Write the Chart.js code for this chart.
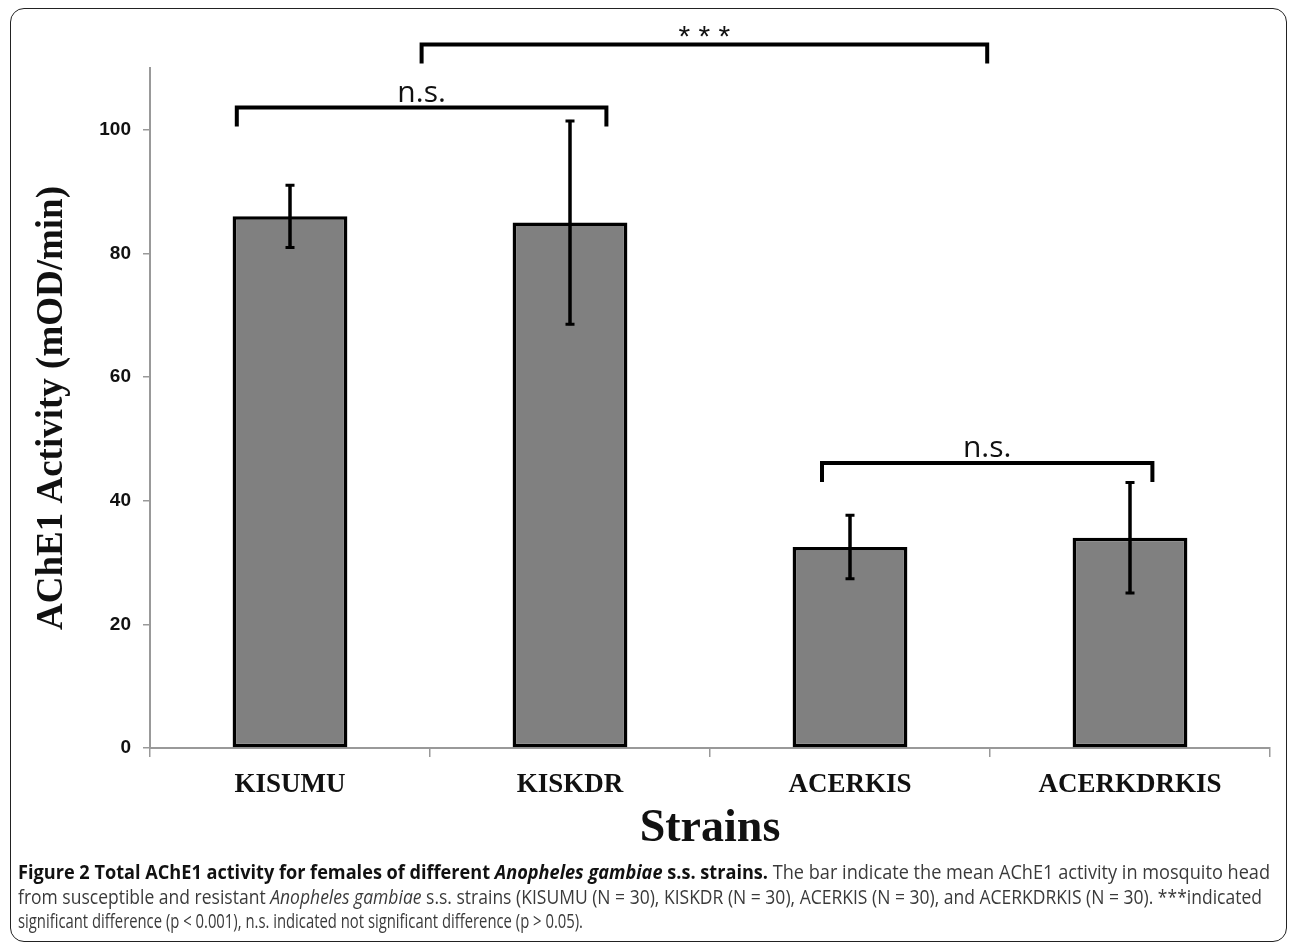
<!DOCTYPE html>
<html>
<head>
<meta charset="utf-8">
<script src="https://cdn.jsdelivr.net/npm/chart.js@4.4.1/dist/chart.umd.min.js"></script>
<style>
  body { margin: 0; background: #fff; width: 1290px; height: 943px; overflow: hidden; position: relative; }
  #frame { position: absolute; left: 10px; top: 8px; width: 1277px; height: 934px; border: 1.5px solid #222; border-radius: 14px; box-sizing: border-box; }
  #wrap { position: absolute; left: 0; top: 0; width: 1290px; height: 860px; }
  #caption { position: absolute; left: 18px; top: 860px; width: 1400px; font-family: "Liberation Sans Narrow", "Open Sans", sans-serif; font-size: 19.5px; color: #3a3a3a; line-height: 24.5px; }
  #caption div { height: 24.5px; }
  #caption span { display: inline-block; white-space: nowrap; transform-origin: left center; }
  #caption b { color: #111; }
</style>
</head>
<body>
<div id="frame"></div>
<div id="wrap"><canvas id="chart"></canvas></div>
<div id="caption">
  <div><span id="cap1"><b>Figure 2 Total AChE1 activity for females of different <i>Anopheles gambiae</i> s.s. strains.</b> The bar indicate the mean AChE1 activity in mosquito head</span></div>
  <div><span id="cap2">from susceptible and resistant <i>Anopheles gambiae</i> s.s. strains (KISUMU (N = 30), KISKDR (N = 30), ACERKIS (N = 30), and ACERKDRKIS (N = 30). ***indicated</span></div>
  <div><span id="cap3">significant difference (p &lt; 0.001), n.s. indicated not significant difference (p &gt; 0.05).</span></div>
</div>
<script>
const strains = ['KISUMU', 'KISKDR', 'ACERKIS', 'ACERKDRKIS'];
const means = [86, 85, 32.5, 34];
const errors = [5.2, 16.6, 5.3, 9.1];
const yTicks = [0, 20, 40, 60, 80, 100];

// significance brackets: from/to in category units, level in y units
const bracketFrom = [-0.19, 0.47, 1.9];
const bracketTo = [1.13, 2.49, 3.08];
const bracketLevel = [103.6, 113.8, 46.1];
const bracketText = ['n.s.', '* * *', 'n.s.'];

const overlay = {
    id: 'overlay',
    afterDatasetsDraw(chart) {
        const ctx = chart.ctx;
        const x = chart.scales.x, y = chart.scales.y;
        const meta = chart.getDatasetMeta(0);
        ctx.save();
        ctx.strokeStyle = '#000';
        ctx.lineCap = 'butt';
        // error bars
        meta.data.forEach((bar, i) => {
            const top = y.getPixelForValue(means[i] + errors[i]);
            const bot = y.getPixelForValue(means[i] - errors[i]);
            ctx.lineWidth = 3.5;
            ctx.beginPath();
            ctx.moveTo(bar.x, top);
            ctx.lineTo(bar.x, bot);
            ctx.stroke();
            ctx.lineWidth = 3;
            ctx.beginPath();
            ctx.moveTo(bar.x - 4.5, top + 1);
            ctx.lineTo(bar.x + 4.5, top + 1);
            ctx.moveTo(bar.x - 4.5, bot - 1);
            ctx.lineTo(bar.x + 4.5, bot - 1);
            ctx.stroke();
        });
        // brackets
        const x0 = x.getPixelForValue(0);
        const step = x.getPixelForValue(1) - x0;
        bracketFrom.forEach((f, i) => {
            const a = x0 + f * step;
            const b = x0 + bracketTo[i] * step;
            const yy = y.getPixelForValue(bracketLevel[i]);
            ctx.lineWidth = 4;
            ctx.lineJoin = 'miter';
            ctx.beginPath();
            ctx.moveTo(a, yy + 19);
            ctx.lineTo(a, yy);
            ctx.lineTo(b, yy);
            ctx.lineTo(b, yy + 19);
            ctx.stroke();
            ctx.fillStyle = '#111';
            ctx.textAlign = 'center';
            if (bracketText[i] === 'n.s.') {
                ctx.font = '30px "Open Sans", "Liberation Sans", sans-serif';
                ctx.textBaseline = 'alphabetic';
                ctx.fillText(bracketText[i], (a + b) / 2, yy - 6);
            } else {
                ctx.font = '30px "Liberation Sans", sans-serif';
                ctx.textBaseline = 'top';
                ctx.fillText(bracketText[i], (a + b) / 2, yy - 22);
            }
        });
        ctx.restore();
    }
};

new Chart(document.getElementById('chart'), {
    type: 'bar',
    data: {
        labels: strains,
        datasets: [{
            data: means,
            backgroundColor: '#808080',
            borderColor: '#000',
            borderWidth: 3.5,
            borderSkipped: false,
            categoryPercentage: 1,
            barPercentage: 0.41
        }]
    },
    options: {
        responsive: true,
        maintainAspectRatio: false,
        animation: false,
        layout: { padding: { left: 28, top: 68, right: 20, bottom: 5 } },
        plugins: { legend: { display: false }, tooltip: { enabled: false } },
        scales: {
            x: {
                afterFit: s => { s.height = 107; },
                grid: { offset: true, drawOnChartArea: false, color: '#999', tickLength: 9, lineWidth: 1.5 },
                border: { color: '#999', width: 2 },
                ticks: { color: '#111', padding: 12, font: { family: '"Liberation Serif", serif', weight: 'bold', size: 27 } },
                title: { display: true, text: 'Strains', color: '#111', padding: { top: 0, bottom: -2 }, font: { family: '"Liberation Serif", serif', weight: 'bold', size: 46 } }
            },
            y: {
                min: 0,
                max: 110,
                afterFit: s => { s.width = 122; },
                afterBuildTicks: s => { s.ticks = yTicks.map(v => ({ value: v })); },
                grid: { drawOnChartArea: false, color: '#999', tickLength: 7, lineWidth: 1.5 },
                border: { color: '#999', width: 2 },
                ticks: { color: '#111', padding: 12, font: { family: '"Liberation Sans", Arial, sans-serif', weight: 'bold', size: 19 } },
                title: { display: true, text: 'AChE1 Activity (mOD/min)', color: '#111', padding: { top: 2, bottom: 0 }, font: { family: '"Liberation Serif", serif', weight: 'bold', size: 37 } }
            }
        }
    },
    plugins: [overlay]
});

// squeeze caption lines to the reference widths
function fitLine(id, width) {
    const el = document.getElementById(id);
    const w = el.getBoundingClientRect().width;
    el.style.transform = 'scaleX(' + (width / w) + ')';
}
fitLine('cap1', 1252);
fitLine('cap2', 1244);
fitLine('cap3', 565);
</script>
</body>
</html>
